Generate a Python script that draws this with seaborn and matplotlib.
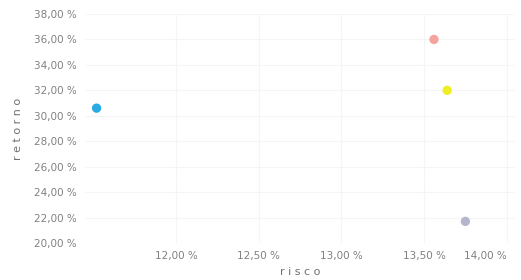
import seaborn as sns
import matplotlib.pyplot as plt
import pandas as pd

# risco x retorno (in %)
ativos = ['A', 'B', 'C', 'D']
risco = [11.52, 13.56, 13.64, 13.75]
retorno = [30.6, 36.0, 32.0, 21.7]
cores = ['#2aaae2', '#f4a49c', '#eeee22', '#b4b6cc']

y_ticks = [20, 22, 24, 26, 28, 30, 32, 34, 36, 38]
x_ticks = [12.0, 12.5, 13.0, 13.5, 14.0]

df = pd.DataFrame({'ativo': ativos, 'risco': risco, 'retorno': retorno})

sns.set_theme(style='white')
fig = plt.figure(figsize=(5.21, 2.80), dpi=100)
ax = fig.add_axes([85 / 521, 1 - 243 / 280, 430 / 521, 229 / 280])

sns.scatterplot(data=df, x='risco', y='retorno', hue='ativo', palette=cores,
                s=45, edgecolor='none', legend=False, ax=ax)

ax.set_xlim(11.45, 14.05)
ax.set_ylim(20, 38)
ax.set_xticks(x_ticks)
ax.set_yticks(y_ticks)
ax.set_xticklabels([f'{v:.2f} %'.replace('.', ',') for v in x_ticks])
ax.set_yticklabels([f'{v:.2f} %'.replace('.', ',') for v in y_ticks])
ax.tick_params(axis='both', labelsize=7.5, colors='#808080', length=0, pad=6)
ax.get_xticklabels()[-1].set_ha('right')
ax.grid(True, color='#f5f5f5', linewidth=0.8)
for s in ax.spines.values():
    s.set_visible(False)

ax.set_xlabel('r i s c o', fontsize=8, color='#707070', labelpad=4)
ax.set_ylabel('r e t o r n o', fontsize=8, color='#707070', labelpad=8)

fig.savefig('out.png', dpi=100)
